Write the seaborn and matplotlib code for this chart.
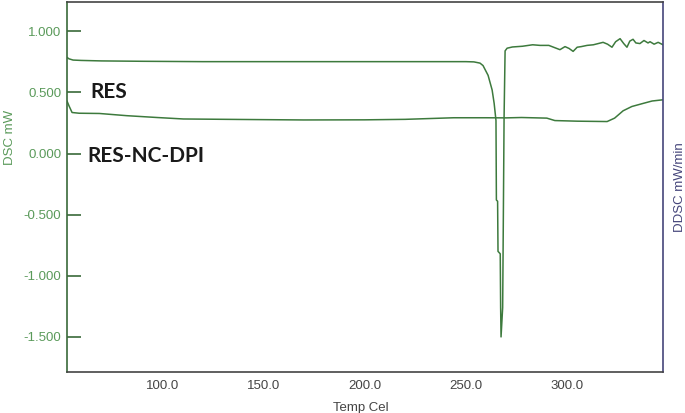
import numpy as np
import pandas as pd
import matplotlib
matplotlib.use('Agg')
import matplotlib.pyplot as plt
import seaborn as sns

# curva RES (DSC)
res_temp = [53, 54, 56, 60, 70, 90, 120, 150, 200, 230, 250, 254, 257,
            258.5, 261, 263, 264, 264.9, 265.1, 265.7, 265.9, 267.0, 267.2, 267.4,
            268.2, 268.5, 268.9, 269.4, 270.4, 273, 278, 283, 286.7, 291,
            296.5, 299, 301, 303, 305, 307, 309.9, 313, 317.8, 320, 322.2, 324,
            326.2, 328, 329.6, 331, 332.6, 334, 336, 338, 340, 341, 343, 345,
            347.4]
res_dsc = [0.787, 0.775, 0.765, 0.762, 0.758, 0.755, 0.752, 0.752, 0.752,
           0.752, 0.752, 0.75, 0.74, 0.72, 0.64, 0.52, 0.41, 0.27, -0.38,
           -0.39, -0.80, -0.82, -1.26, -1.50, -1.26, -0.60, 0.30, 0.84,
           0.862, 0.872, 0.878, 0.89, 0.885, 0.885, 0.85, 0.875, 0.86, 0.836,
           0.87, 0.875, 0.885, 0.89, 0.91, 0.895, 0.87, 0.915, 0.94, 0.90,
           0.87, 0.92, 0.935, 0.905, 0.90, 0.925, 0.905, 0.915, 0.895, 0.91,
           0.89]

# curva RES-NC-DPI (DSC)
nc_temp = [53, 54, 55.5, 59, 69, 82.5, 97.5, 110.5, 139, 170, 200, 220,
           244, 260, 270, 277.5, 290, 294, 305, 319.8, 323.5, 327.7, 332,
           337.5, 342, 347.4]
nc_dsc = [0.43, 0.39, 0.336, 0.33, 0.328, 0.31, 0.295, 0.283, 0.279, 0.275,
          0.276, 0.28, 0.293, 0.293, 0.292, 0.295, 0.29, 0.27, 0.265, 0.262,
          0.29, 0.35, 0.385, 0.41, 0.43, 0.44]

x_ticks = [100.0, 150.0, 200.0, 250.0, 300.0]
y_ticks = [-1.5, -1.0, -0.5, 0.0, 0.5, 1.0]

line_color = '#3d7a3d'
tick_green = '#5a9a5a'
blue = '#45457a'

sns.set_style('white')
plt.rcParams['font.family'] = ['Liberation Sans', 'DejaVu Sans']

fig = plt.figure(figsize=(6.85, 4.13), dpi=100)
ax = fig.add_axes([67 / 685, 41 / 413, 596 / 685, 370 / 413])

df_res = pd.DataFrame({'temp': res_temp, 'dsc': res_dsc})
df_nc = pd.DataFrame({'temp': nc_temp, 'dsc': nc_dsc})
sns.lineplot(data=df_res, x='temp', y='dsc', ax=ax, color=line_color,
             linewidth=1.1, estimator=None)
sns.lineplot(data=df_nc, x='temp', y='dsc', ax=ax, color=line_color,
             linewidth=1.1, estimator=None)

ax.set_xlim(53, 347.4)
ax.set_ylim(-1.787, 1.24)
ax.set_xticks(x_ticks)
ax.set_xticklabels(['%.1f' % t for t in x_ticks])
ax.set_yticks(y_ticks)
ax.set_yticklabels(['%.3f' % t for t in y_ticks])

ax.tick_params(axis='x', direction='in', length=10, width=1.2, colors='#333333',
               labelcolor='#444444', labelsize=9.5, pad=6)
ax.tick_params(axis='y', direction='in', length=10, width=1.2, colors='#3a6a3a',
               labelcolor=tick_green, labelsize=9.5, pad=4)

ax.set_xlabel('Temp Cel', fontsize=9.5, color='#444444')
ax.xaxis.set_label_coords(0.493, -0.081)
ax.set_ylabel('DSC mW', fontsize=9.5, color=tick_green)
ax.yaxis.set_label_coords(-0.086, 0.635)

for side in ['top', 'bottom']:
    ax.spines[side].set_color('#444444')
    ax.spines[side].set_linewidth(1.2)
ax.spines['left'].set_color('#3a6a3a')
ax.spines['left'].set_linewidth(1.2)
ax.spines['right'].set_color(blue)
ax.spines['right'].set_linewidth(1.2)

ax2 = ax.twinx()
ax2.set_yticks([])
ax2.set_ylabel('DDSC mW/min', fontsize=9.5, color=blue, labelpad=8)
for s in ax2.spines.values():
    s.set_visible(False)

ax.text(64.5, 0.50, 'RES', fontsize=15, fontweight='bold', family='Lato',
        color='#1a1a1a', va='center', ha='left')
ax.text(63, -0.016, 'RES-NC-DPI', fontsize=15, fontweight='bold', family='Lato',
        color='#1a1a1a', va='center', ha='left')

fig.savefig('out.png', dpi=100)
